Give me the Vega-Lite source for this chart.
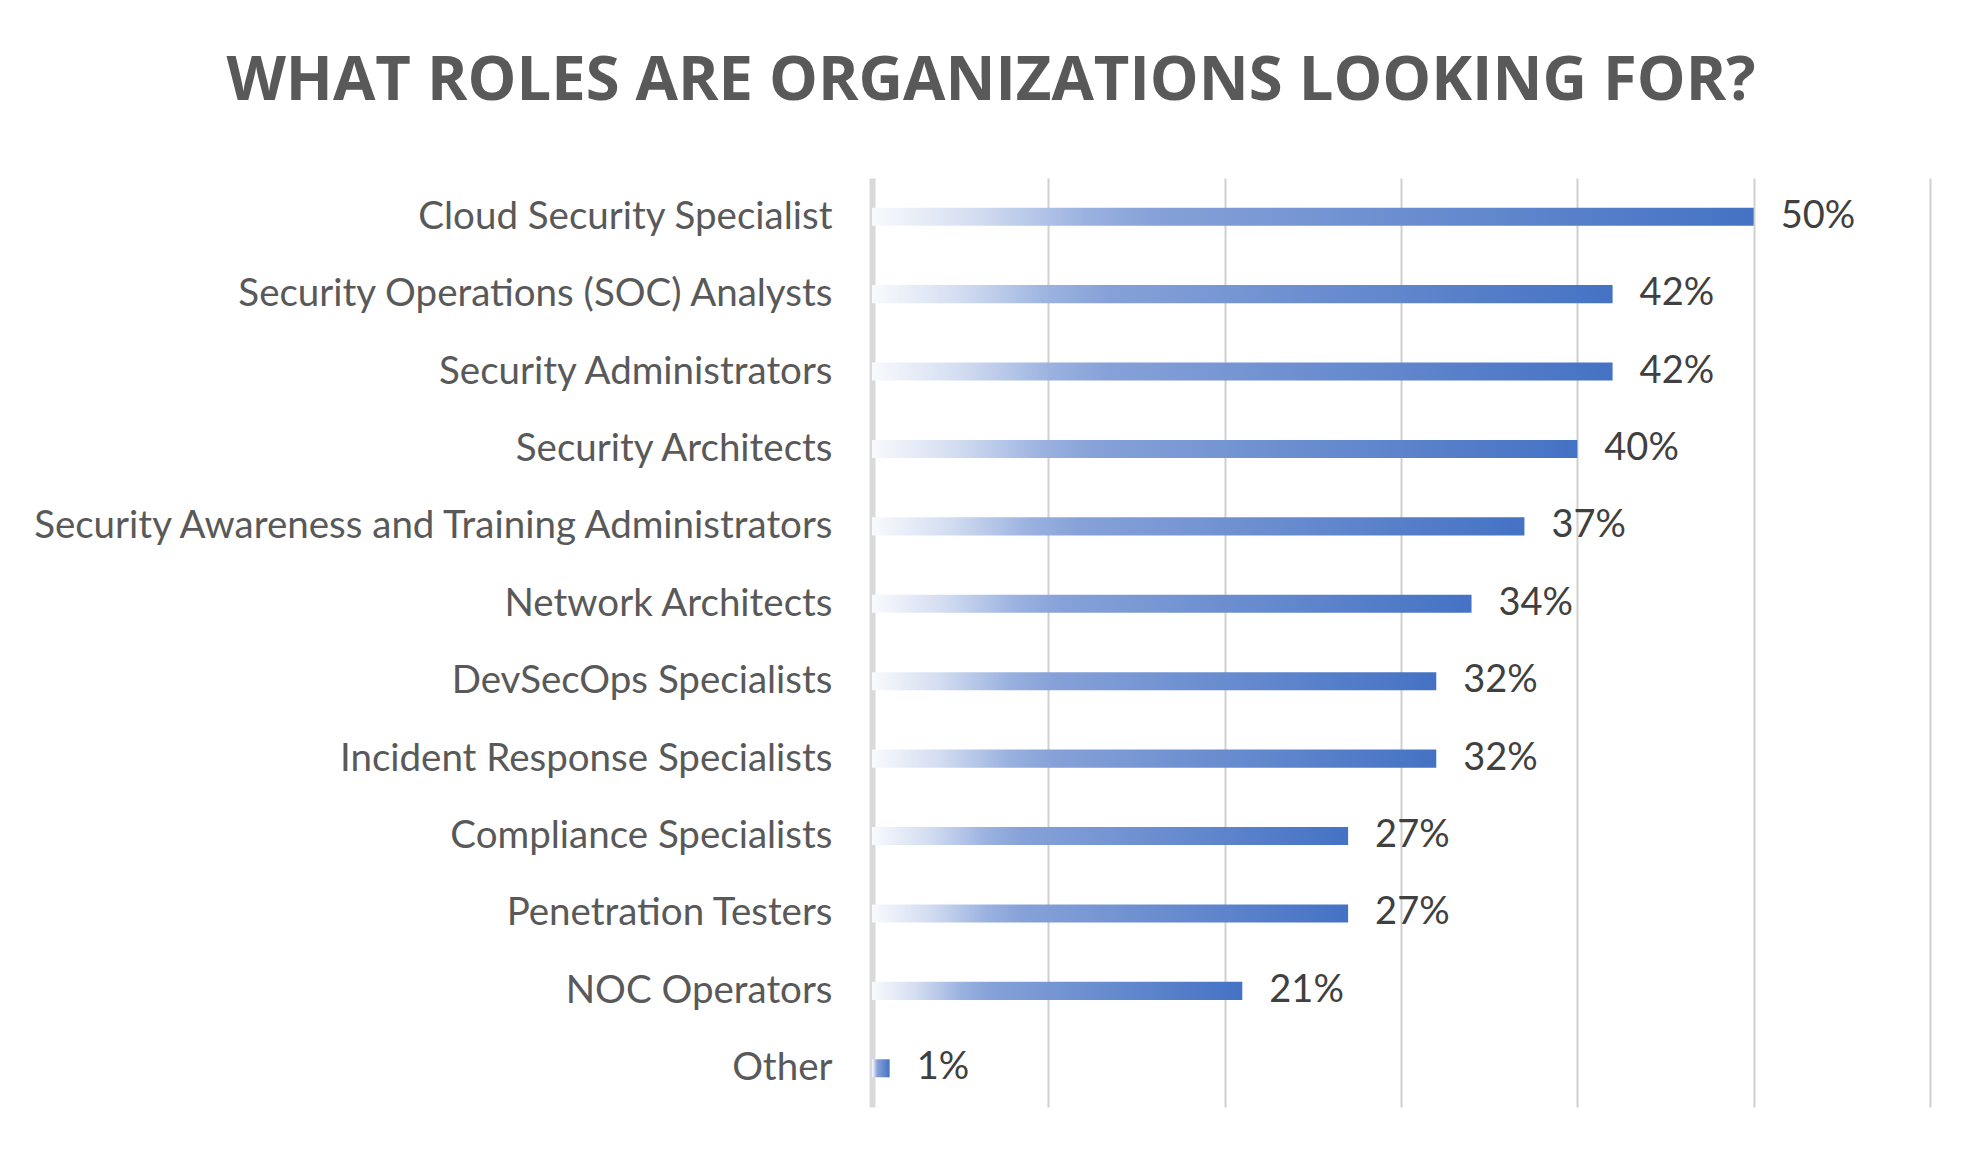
{
  "$schema": "https://vega.github.io/schema/vega-lite/v6.json",
  "width": 1058,
  "height": 929,
  "padding": {"left": 12, "top": 50, "right": 52, "bottom": 51},
  "background": "white",
  "title": {
    "text": "WHAT ROLES ARE ORGANIZATIONS LOOKING FOR?",
    "font": "Open Sans",
    "fontSize": 61.5,
    "fontWeight": "bold",
    "color": "#595959",
    "anchor": "middle",
    "frame": "group",
    "dx": -410,
    "baseline": "alphabetic",
    "offset": 17
  },
  "data": {
    "values": [
      {"role": "Cloud Security Specialist", "value": 0.50},
      {"role": "Security Operations (SOC) Analysts", "value": 0.42},
      {"role": "Security Administrators", "value": 0.42},
      {"role": "Security Architects", "value": 0.40},
      {"role": "Security Awareness and Training Administrators", "value": 0.37},
      {"role": "Network Architects", "value": 0.34},
      {"role": "DevSecOps Specialists", "value": 0.32},
      {"role": "Incident Response Specialists", "value": 0.32},
      {"role": "Compliance Specialists", "value": 0.27},
      {"role": "Penetration Testers", "value": 0.27},
      {"role": "NOC Operators", "value": 0.21},
      {"role": "Other", "value": 0.01}
    ]
  },
  "encoding": {
    "y": {
      "field": "role",
      "type": "nominal",
      "sort": null,
      "title": null,
      "scale": {"paddingInner": 0.767, "paddingOuter": 0.3835},
      "axis": {
        "labelFont": "Lato",
        "labelFontSize": 38.5,
        "labelColor": "#595959",
        "labelPadding": 40,
        "labelLimit": 0,
        "ticks": false,
        "domainColor": "#d9d9d9",
        "domainWidth": 6,
        "minExtent": 860,
        "maxExtent": 860,
        "grid": false
      }
    },
    "x": {
      "field": "value",
      "type": "quantitative",
      "title": null,
      "scale": {"domain": [0, 0.6], "nice": false},
      "axis": {
        "values": [0.1, 0.2, 0.3, 0.4, 0.5, 0.6],
        "labels": false,
        "ticks": false,
        "domain": false,
        "grid": true,
        "gridColor": "#d0d0d0",
        "gridWidth": 2
      }
    }
  },
  "layer": [
    {
      "mark": {
        "type": "bar",
        "fill": {
          "gradient": "linear",
          "x1": 0, "y1": 0, "x2": 1, "y2": 0,
          "stops": [
            {"offset": 0, "color": "#f8fafd"},
            {"offset": 0.12, "color": "#d3ddf1"},
            {"offset": 0.24, "color": "#9bb2e0"},
            {"offset": 0.32, "color": "#86a1d8"},
            {"offset": 1, "color": "#4472c4"}
          ]
        }
      }
    },
    {
      "mark": {
        "type": "text",
        "align": "left",
        "baseline": "middle",
        "dx": 27,
        "font": "Lato",
        "fontSize": 38,
        "color": "#404040"
      },
      "encoding": {
        "text": {"field": "value", "type": "quantitative", "format": ".0%"}
      }
    }
  ],
  "config": {
    "view": {"stroke": null}
  }
}
